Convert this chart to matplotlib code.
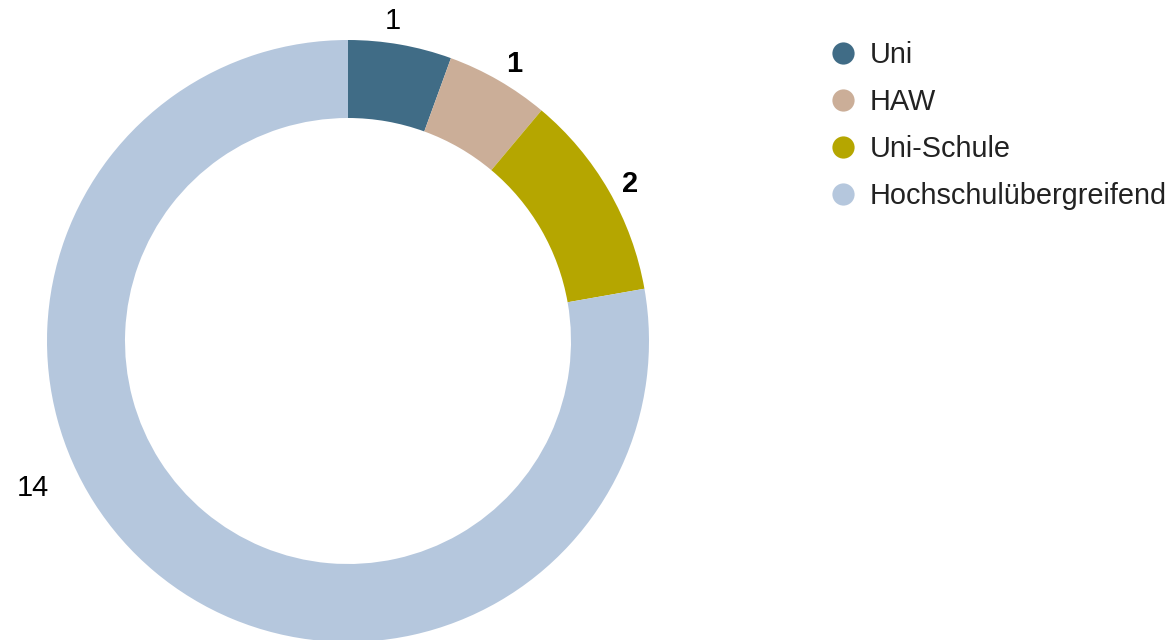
import numpy as np
import matplotlib
matplotlib.use("Agg")
from matplotlib import pyplot as plt
from matplotlib.lines import Line2D

plt.rcParams['font.family'] = ['Liberation Sans', 'DejaVu Sans']

# data
categories = ['Uni', 'HAW', 'Uni-Schule', 'Hochschulübergreifend']
values = [1, 1, 2, 14]
colors = ['#406c86', '#cbae98', '#b5a600', '#b5c7dd']
label_bold = [False, True, True, False]

W, H = 1170, 640
fig = plt.figure(figsize=(W / 100, H / 100), dpi=100)
ax = fig.add_axes([0, 0, 1, 1])

cx, cy = 348, H - 341
R = 301
ring = 78

wedges, _ = ax.pie(values, colors=colors, startangle=90, counterclock=False,
                   radius=R, center=(cx, cy), frame=True,
                   wedgeprops=dict(width=ring, linewidth=0))
ax.set_xlim(0, W)
ax.set_ylim(0, H)
ax.set_aspect('equal')
ax.axis('off')

# value labels outside the ring (small angle nudges like the original layout)
nudge = [2, -1, -1, None]
total = sum(values)
start = 90.0
for i, v in enumerate(values):
    span = 360.0 * v / total
    mid = start - span / 2
    start -= span
    dist = R + 22
    if nudge[i] is None:
        mid, dist = 205, R + 47
    else:
        mid += nudge[i]
    a = np.deg2rad(mid)
    ax.text(cx + dist * np.cos(a), cy + dist * np.sin(a), str(v),
            ha='center', va='center', fontsize=21,
            fontweight='bold' if label_bold[i] else 'normal', color='black')

handles = [Line2D([], [], marker='o', ls='', markersize=16, color=c,
                  markeredgewidth=0) for c in colors]
fig.legend(handles, categories, loc='upper left',
           bbox_to_anchor=(829 / W, 1 - 41 / H), frameon=False,
           fontsize=20.8, borderpad=0, borderaxespad=0, handlelength=1.0,
           handletextpad=0.4, labelspacing=0.66, labelcolor='#222222')

fig.savefig('out.png', dpi=100)
